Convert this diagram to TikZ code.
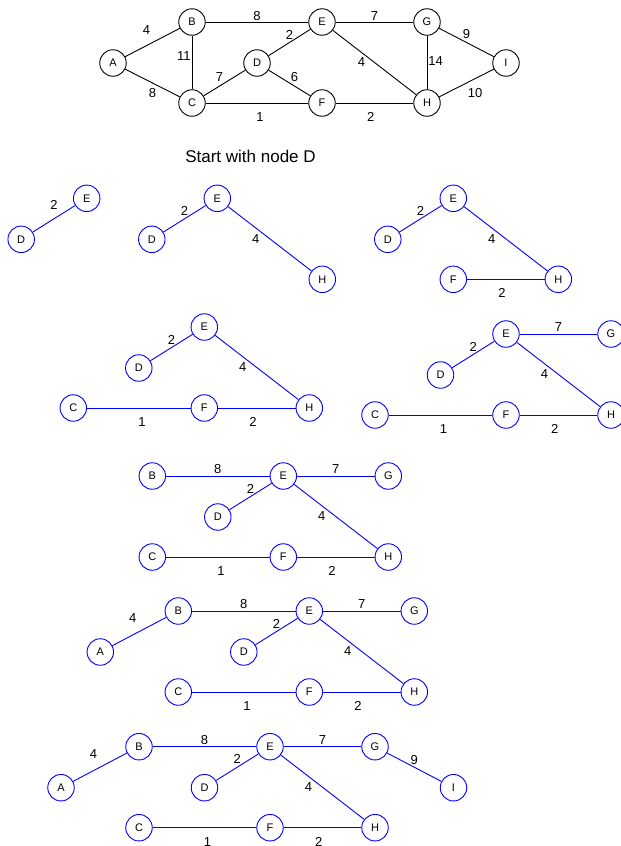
\documentclass[tikz,border=0pt]{standalone}
\usepackage{fontspec}
\setmainfont{Liberation Sans}
\usetikzlibrary{positioning}
\begin{document}
\begin{tikzpicture}[x=1pt, y=-1pt,
        vertex/.style={draw, circle, minimum size=26.5pt, inner sep=0pt, line width=0.9pt, font=\fontsize{11}{11}\selectfont},
        tnode/.style={vertex, draw=blue},
        edge/.style={line width=0.9pt},
        tree/.style={line width=0.9pt, blue},
        wt/.style={inner sep=1pt, text=black, font=\fontsize{13}{13}\selectfont}]
    \useasboundingbox (0,0) rectangle (621,846);

    \begin{scope}[shift={(322,22)}]
        \node[vertex] (A) at (-209,41) {A};
        \node[vertex] (B) at (-130,0) {B};
        \node[vertex] (C) at (-130,81) {C};
        \node[vertex] (D) at (-65,41) {D};
        \node[vertex] (E) at (0,0) {E};
        \node[vertex] (F) at (0,81) {F};
        \node[vertex] (G) at (105,0) {G};
        \node[vertex] (H) at (105,81) {H};
        \node[vertex] (I) at (184,41) {I};
    \end{scope}
    \draw[edge] (A) -- node[wt, above left=7pt and 1pt] {4} (B);
    \draw[edge] (A) -- node[wt, below=4pt] {8} (C);
    \draw[edge] (B) -- node[wt, pos=0.38, left] {11} (C);
    \draw[edge] (B) -- node[wt, above] {8} (E);
    \draw[edge] (D) -- node[wt, above=2pt] {2} (E);
    \draw[edge] (C) -- node[wt, above left] {7} (D);
    \draw[edge] (D) -- node[wt, above right] {6} (F);
    \draw[edge] (C) -- node[wt, pos=0.53, below=8pt] {1} (F);
    \draw[edge] (F) -- node[wt, pos=0.45, below=8pt] {2} (H);
    \draw[edge] (E) -- node[wt, above] {7} (G);
    \draw[edge] (E) -- node[wt, left=8pt] {4} (H);
    \draw[edge] (G) -- node[wt, pos=0.47, right] {14} (H);
    \draw[edge] (G) -- node[wt, above=2pt] {9} (I);
    \draw[edge] (H) -- node[wt, below right=4pt and 0pt] {10} (I);

    \node[font=\fontsize{17}{17}\selectfont] (start) at (250.5,156) {Start with node D};

    \begin{scope}[shift={(86.7,198.3)}]
        \node[tnode] (D1) at (-65.5,41) {D};
        \node[tnode] (E1) at (0,0) {E};
    \end{scope}
    \draw[tree] (D1) -- node[wt, above=8pt] {2} (E1);

    \begin{scope}[shift={(217.3,198.3)}]
        \node[tnode] (D2) at (-65.5,41) {D};
        \node[tnode] (E2) at (0,0) {E};
        \node[tnode] (H2) at (105,81) {H};
    \end{scope}
    \draw[tree] (D2) -- node[wt, above=2pt] {2} (E2);
    \draw[tree] (E2) -- node[wt, left=9pt] {4} (H2);

    \begin{scope}[shift={(453.3,198.3)}]
        \node[tnode] (D3) at (-65.5,41) {D};
        \node[tnode] (E3) at (0,0) {E};
        \node[tnode] (F3) at (0,81) {F};
        \node[tnode] (H3) at (105,81) {H};
    \end{scope}
    \draw[tree] (D3) -- node[wt, above=2pt] {2} (E3);
    \draw[tree] (E3) -- node[wt, left=9pt] {4} (H3);
    \draw[tree] (F3) -- node[wt, pos=0.45, below=8pt] {2} (H3);

    \begin{scope}[shift={(204.3,327)}]
        \node[tnode] (C4) at (-131,81) {C};
        \node[tnode] (D4) at (-65.5,41) {D};
        \node[tnode] (E4) at (0,0) {E};
        \node[tnode] (F4) at (0,81) {F};
        \node[tnode] (H4) at (105,81) {H};
    \end{scope}
    \draw[tree] (D4) -- node[wt, above=2pt] {2} (E4);
    \draw[tree] (E4) -- node[wt, left=9pt] {4} (H4);
    \draw[tree] (C4) -- node[wt, pos=0.53, below=8pt] {1} (F4);
    \draw[tree] (F4) -- node[wt, pos=0.45, below=8pt] {2} (H4);

    \begin{scope}[shift={(506,334)}]
        \node[tnode] (C5) at (-131,81) {C};
        \node[tnode] (D5) at (-65.5,41) {D};
        \node[tnode] (E5) at (0,0) {E};
        \node[tnode] (F5) at (0,81) {F};
        \node[tnode] (G5) at (105,0) {G};
        \node[tnode] (H5) at (105,81) {H};
    \end{scope}
    \draw[tree] (D5) -- node[wt, above=2pt] {2} (E5);
    \draw[tree] (E5) -- node[wt, above=1pt] {7} (G5);
    \draw[tree] (E5) -- node[wt, left=9pt] {4} (H5);
    \draw[tree] (C5) -- node[wt, pos=0.53, below=8pt] {1} (F5);
    \draw[tree] (F5) -- node[wt, pos=0.45, below=8pt] {2} (H5);

    \begin{scope}[shift={(283.3,476)}]
        \node[tnode] (B6) at (-131,0) {B};
        \node[tnode] (C6) at (-131,81) {C};
        \node[tnode] (D6) at (-65.5,41) {D};
        \node[tnode] (E6) at (0,0) {E};
        \node[tnode] (F6) at (0,81) {F};
        \node[tnode] (G6) at (105,0) {G};
        \node[tnode] (H6) at (105,81) {H};
    \end{scope}
    \draw[tree] (B6) -- node[wt, above=1pt] {8} (E6);
    \draw[tree] (D6) -- node[wt, above=2pt] {2} (E6);
    \draw[tree] (E6) -- node[wt, above=1pt] {7} (G6);
    \draw[tree] (E6) -- node[wt, left=9pt] {4} (H6);
    \draw[tree] (C6) -- node[wt, pos=0.53, below=8pt] {1} (F6);
    \draw[tree] (F6) -- node[wt, pos=0.45, below=8pt] {2} (H6);

    \begin{scope}[shift={(309.3,611)}]
        \node[tnode] (A7) at (-209,41) {A};
        \node[tnode] (B7) at (-131,0) {B};
        \node[tnode] (C7) at (-131,81) {C};
        \node[tnode] (D7) at (-65.5,41) {D};
        \node[tnode] (E7) at (0,0) {E};
        \node[tnode] (F7) at (0,81) {F};
        \node[tnode] (G7) at (105,0) {G};
        \node[tnode] (H7) at (105,81) {H};
    \end{scope}
    \draw[tree] (A7) -- node[wt, above left=7.5pt and 1.5pt] {4} (B7);
    \draw[tree] (B7) -- node[wt, above=1pt] {8} (E7);
    \draw[tree] (D7) -- node[wt, above=2pt] {2} (E7);
    \draw[tree] (E7) -- node[wt, above=1pt] {7} (G7);
    \draw[tree] (E7) -- node[wt, left=9pt] {4} (H7);
    \draw[tree] (C7) -- node[wt, pos=0.53, below=8pt] {1} (F7);
    \draw[tree] (F7) -- node[wt, pos=0.45, below=8pt] {2} (H7);

    \begin{scope}[shift={(270,746.7)}]
        \node[tnode] (A8) at (-209,41) {A};
        \node[tnode] (B8) at (-131,0) {B};
        \node[tnode] (C8) at (-131,81) {C};
        \node[tnode] (D8) at (-65.5,41) {D};
        \node[tnode] (E8) at (0,0) {E};
        \node[tnode] (F8) at (0,81) {F};
        \node[tnode] (G8) at (105,0) {G};
        \node[tnode] (H8) at (105,81) {H};
        \node[tnode] (I8) at (183.5,41) {I};
    \end{scope}
    \draw[tree] (A8) -- node[wt, above left=7.5pt and 1.5pt] {4} (B8);
    \draw[tree] (B8) -- node[wt, above=1pt] {8} (E8);
    \draw[tree] (D8) -- node[wt, above=2pt] {2} (E8);
    \draw[tree] (E8) -- node[wt, above=1pt] {7} (G8);
    \draw[tree] (G8) -- node[wt, above=1.5pt] {9} (I8);
    \draw[tree] (E8) -- node[wt, left=9pt] {4} (H8);
    \draw[tree] (C8) -- node[wt, pos=0.53, below=8pt] {1} (F8);
    \draw[tree] (F8) -- node[wt, pos=0.45, below=8pt] {2} (H8);
\end{tikzpicture}
\end{document}
